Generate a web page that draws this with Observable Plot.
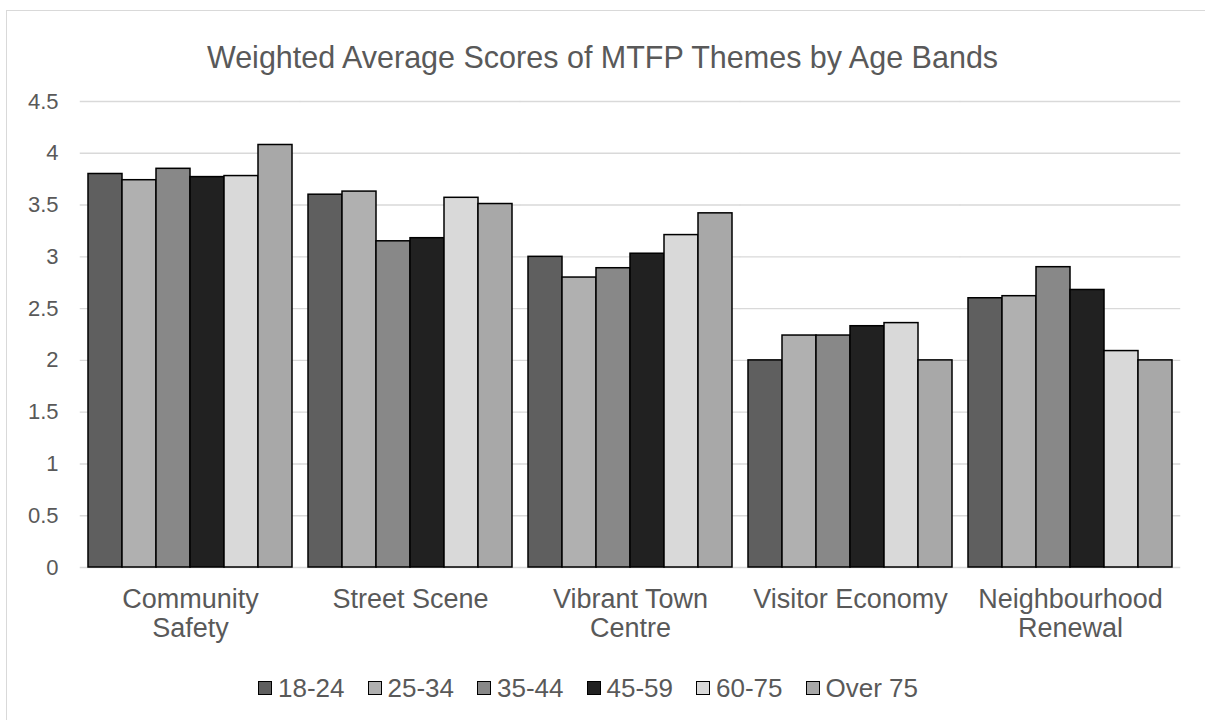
<!DOCTYPE html>
<html>
<head>
<meta charset="utf-8">
<script src="https://cdn.jsdelivr.net/npm/d3@7"></script>
<script src="https://cdn.jsdelivr.net/npm/@observablehq/plot@0.6"></script>
<style>
  html, body { margin: 0; padding: 0; background: #fff; overflow: hidden; }
  #page { position: relative; width: 1205px; height: 720px; font-family: "Liberation Sans", Arial, sans-serif; color: #595959; }
  #frame { position: absolute; left: 6px; top: 10px; width: 1300px; height: 800px; border-left: 1.5px solid #d9d9d9; border-top: 1.5px solid #d9d9d9; }
  #title { position: absolute; left: 0; top: 42px; width: 1205px; text-align: center; font-size: 30.5px; line-height: 30px; white-space: nowrap; }
  #chart { position: absolute; left: 0; top: 80px; }
  #legend { position: absolute; left: 258px; top: 675px; display: flex; align-items: center; font-size: 26px; line-height: 26px; white-space: nowrap; }
  .item { display: flex; align-items: center; margin-right: 23px; }
  .sw { width: 12px; height: 12px; border: 1.5px solid #000; margin-right: 6px; }
</style>
</head>
<body>
<div id="page">
  <div id="frame"></div>
  <div id="title">Weighted Average Scores of MTFP Themes by Age Bands</div>
  <div id="chart"></div>
  <div id="legend"></div>
</div>
<script>
const themes = ["Community Safety", "Street Scene", "Vibrant Town Centre", "Visitor Economy", "Neighbourhood Renewal"];
const themeLabels = ["Community\nSafety", "Street Scene", "Vibrant Town\nCentre", "Visitor Economy", "Neighbourhood\nRenewal"];
const ages = ["18-24", "25-34", "35-44", "45-59", "60-75", "Over 75"];
const ageColors = ["#5f5f5f", "#b0b0b0", "#888888", "#212121", "#d9d9d9", "#a8a8a8"];

const age18_24 = [3.80, 3.60, 3.00, 2.00, 2.60];
const age25_34 = [3.74, 3.63, 2.80, 2.24, 2.62];
const age35_44 = [3.85, 3.15, 2.89, 2.24, 2.90];
const age45_59 = [3.77, 3.18, 3.03, 2.33, 2.68];
const age60_75 = [3.78, 3.57, 3.21, 2.36, 2.09];
const ageOver75 = [4.08, 3.51, 3.42, 2.00, 2.00];

const yTicks = [0, 0.5, 1, 1.5, 2, 2.5, 3, 3.5, 4, 4.5];

const series = [age18_24, age25_34, age35_44, age45_59, age60_75, ageOver75];
const data = [];
themes.forEach((t, i) => ages.forEach((a, j) => data.push({theme: t, age: a, value: series[j][i]})));
const labelOf = new Map(themes.map((t, i) => [t, themeLabels[i]]));

const chart = Plot.plot({
  width: 1205,
  height: 567,
  marginLeft: 78,
  marginRight: 23,
  marginTop: 21,
  marginBottom: 80,
  style: {fontFamily: '"Liberation Sans", Arial, sans-serif', background: "transparent", overflow: "visible"},
  fx: {domain: themes, paddingInner: 0.0748, paddingOuter: 0.0408, label: null},
  x: {domain: ages, padding: 0, axis: null},
  y: {domain: [0, 4.5], label: null},
  color: {domain: ages, range: ageColors},
  marks: [
    Plot.ruleY(yTicks, {y: d => d, stroke: "#d9d9d9", strokeWidth: 1.4, insetLeft: -8.25, insetRight: -8.25}),
    Plot.barY(data, {fx: "theme", x: "age", y: "value", fill: "age", stroke: "#000", strokeWidth: 1.5}),
    Plot.axisY({ticks: yTicks, tickSize: 0, tickPadding: 30, fontSize: 22, color: "#595959", tickFormat: d => String(d), label: null}),
    Plot.axisFx({anchor: "bottom", tickSize: 0, tickPadding: 19, fontSize: 27, lineHeight: 1.1, color: "#595959", tickFormat: d => labelOf.get(d), label: null})
  ]
});
document.getElementById("chart").appendChild(chart);

const legend = document.getElementById("legend");
ages.forEach((a, i) => {
  const item = document.createElement("div");
  item.className = "item";
  const sw = document.createElement("div");
  sw.className = "sw";
  sw.style.background = ageColors[i];
  const lab = document.createElement("span");
  lab.textContent = a;
  item.appendChild(sw);
  item.appendChild(lab);
  legend.appendChild(item);
});
</script>
</body>
</html>
